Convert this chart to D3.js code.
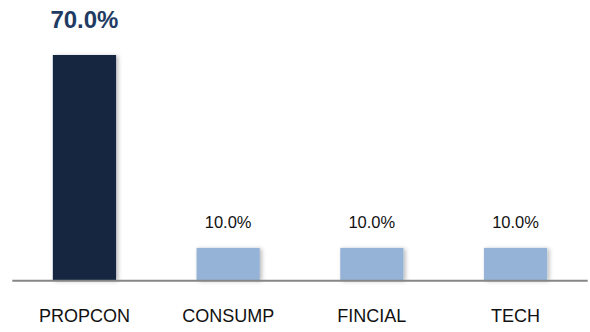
<!DOCTYPE html>
<html>
<head>
<meta charset="utf-8">
<script src="https://cdn.jsdelivr.net/npm/d3@7"></script>
<style>
  html, body { margin: 0; padding: 0; background: #ffffff; }
  svg { display: block; font-family: Arial, "Liberation Sans", sans-serif; }
</style>
</head>
<body>
<svg id="chart" width="590" height="332"></svg>
<script>
// Sector weights (%)
const categories = ["PROPCON", "CONSUMP", "FINCIAL", "TECH"];
const weights = [70.0, 10.0, 10.0, 10.0];
const highlighted = ["PROPCON"];

const svg = d3.select("#chart");
const baseY = 280;

// soft drop shadow behind each bar
const defs = svg.append("defs");
const f = defs.append("filter").attr("id", "barShadow")
  .attr("x", "-20%").attr("y", "-20%").attr("width", "150%").attr("height", "140%");
f.append("feDropShadow")
  .attr("dx", 2).attr("dy", 1).attr("stdDeviation", 2.2)
  .attr("flood-color", "#000").attr("flood-opacity", 0.28);

const x = d3.scaleBand()
  .domain(categories)
  .range([12.6, 587.4])
  .paddingInner(0.56)
  .paddingOuter(0.28);

const y = d3.scaleLinear().domain([0, 70]).range([baseY, 55]);

const data = categories.map((c, i) => ({ cat: c, val: weights[i] }));

// bars
svg.append("g").selectAll("rect")
  .data(data)
  .join("rect")
  .attr("x", d => x(d.cat))
  .attr("width", x.bandwidth())
  .attr("y", d => y(d.val))
  .attr("height", d => y(0) - y(d.val))
  .attr("fill", d => highlighted.includes(d.cat) ? "#13253F" : "#95B3D7")
  .attr("filter", "url(#barShadow)");

// baseline
svg.append("line")
  .attr("x1", 12.3).attr("x2", 587.7)
  .attr("y1", baseY + 0.7).attr("y2", baseY + 0.7)
  .attr("stroke", "#868686").attr("stroke-width", 2);

// value labels
svg.append("g").selectAll("text")
  .data(data)
  .join("text")
  .attr("x", d => x(d.cat) + x.bandwidth() / 2)
  .attr("y", d => highlighted.includes(d.cat) ? y(d.val) - 27 : y(d.val) - 20.3)
  .attr("text-anchor", "middle")
  .attr("font-size", d => highlighted.includes(d.cat) ? 24 : 16.5)
  .attr("font-weight", d => highlighted.includes(d.cat) ? "bold" : "normal")
  .attr("fill", d => highlighted.includes(d.cat) ? "#1F3B64" : "#111111")
  .text(d => d.val.toFixed(1) + "%");

// category axis labels
const xAxis = d3.axisBottom(x).tickSize(0).tickPadding(0);
const gx = svg.append("g").attr("transform", `translate(0,${baseY})`).call(xAxis);
gx.select(".domain").remove();
gx.selectAll("text")
  .attr("dy", null)
  .attr("y", 42.3)
  .attr("font-size", 18)
  .attr("font-family", "Arial, 'Liberation Sans', sans-serif")
  .attr("fill", "#111111");
</script>
</body>
</html>
